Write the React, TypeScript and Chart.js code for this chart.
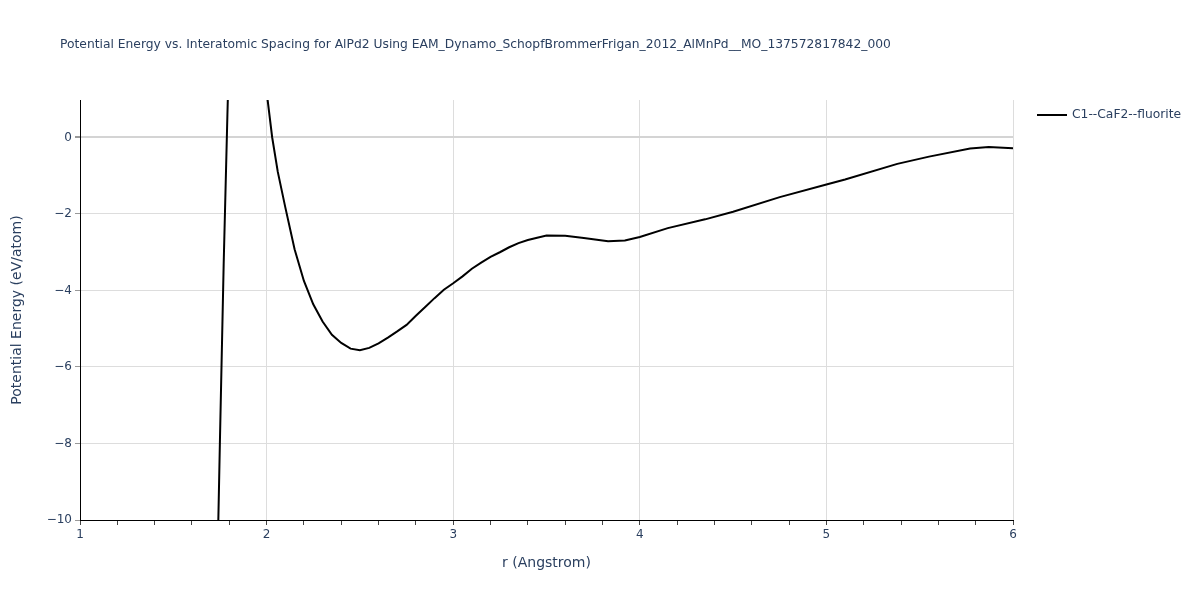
import React, { useEffect, useRef } from "react";
import { Chart, registerables } from "chart.js";

Chart.register(...registerables);

const TITLE =
  "Potential Energy vs. Interatomic Spacing for AlPd2 Using EAM_Dynamo_SchopfBrommerFrigan_2012_AlMnPd__MO_137572817842_000";
const SERIES_NAME = "C1--CaF2--fluorite";
const X_TITLE = "r (Angstrom)";
const Y_TITLE = "Potential Energy (eV/atom)";

const rValues = [
  1.70, 1.75, 1.77, 1.79, 1.82, 1.9, 1.98, 2.03, 2.06, 2.10, 2.15, 2.20, 2.25, 2.30, 2.35, 2.40,
  2.45, 2.50, 2.55, 2.60, 2.65, 2.70, 2.75, 2.80, 2.85, 2.90, 2.95, 3.00, 3.05, 3.10, 3.15,
  3.20, 3.25, 3.30, 3.35, 3.40, 3.45, 3.50, 3.60, 3.70, 3.80, 3.83, 3.92, 4.00, 4.15, 4.35,
  4.50, 4.75, 5.00, 5.10, 5.38, 5.55, 5.77, 5.87, 6.00,
];
const energyValues = [
  -20, -7.9, -3.3, 0.6, 6, 20, 2.0, 0.0, -0.9, -1.82, -2.92, -3.75, -4.36, -4.81, -5.16, -5.37,
  -5.52, -5.56, -5.5, -5.38, -5.23, -5.07, -4.9, -4.66, -4.43, -4.2, -3.98, -3.81, -3.63, -3.43, -3.27,
  -3.12, -3.0, -2.87, -2.76, -2.68, -2.62, -2.56, -2.57, -2.63, -2.69, -2.71, -2.69, -2.6, -2.37, -2.14,
  -1.94, -1.56, -1.23, -1.1, -0.69, -0.5, -0.29, -0.25, -0.28,
];

const X_MIN = 1;
const X_MAX = 6;
const Y_MIN = -10;
const Y_MAX = 0.98;

const TEXT = "#2a3f5f";
const FONT = "'DejaVu Sans', Verdana, sans-serif";

const isInt = (v: number) => Math.abs(v - Math.round(v)) < 1e-6;
const fmt = (v: number) => {
  const n = Math.round(v);
  return n < 0 ? "\u2212" + Math.abs(n) : String(n);
};

const overlayPlugin = {
  id: "overlay",
  afterDraw(chart: any) {
    const ctx = chart.ctx;
    ctx.save();
    ctx.fillStyle = TEXT;
    ctx.font = `12.3px ${FONT}`;
    ctx.textBaseline = "middle";
    ctx.textAlign = "left";
    ctx.fillText(TITLE, 60, 45);
    // legend
    ctx.strokeStyle = "#000";
    ctx.lineWidth = 2;
    ctx.beginPath();
    ctx.moveTo(1037, 115);
    ctx.lineTo(1067, 115);
    ctx.stroke();
    ctx.font = `12.3px ${FONT}`;
    ctx.fillText(SERIES_NAME, 1072, 115);
    ctx.restore();
  },
};

export default function App() {
  const ref = useRef<HTMLCanvasElement | null>(null);
  useEffect(() => {
    if (!ref.current) return;
    const data = rValues.map((r, i) => ({ x: r, y: energyValues[i] }));
    const chart = new Chart(ref.current, {
      type: "line",
      data: {
        datasets: [
          {
            label: SERIES_NAME,
            data,
            borderColor: "#000000",
            backgroundColor: "#000000",
            borderWidth: 2,
            pointRadius: 0,
            tension: 0,
          },
        ],
      },
      plugins: [overlayPlugin],
      options: {
        animation: false,
        responsive: false,
        maintainAspectRatio: false,
        layout: { padding: { top: 100, right: 187, left: 0, bottom: 0 } },
        plugins: {
          legend: { display: false },
          title: { display: false },
          tooltip: { enabled: false },
        },
        scales: {
          x: {
            type: "linear",
            min: X_MIN,
            max: X_MAX,
            afterFit: (s: any) => {
              s.height = 80;
            },
            ticks: {
              stepSize: 0.2,
              includeBounds: false,
              autoSkip: false,
              maxRotation: 0,
              padding: 3,
              color: TEXT,
              font: { family: FONT, size: 12 },
              callback: (v: any) => (isInt(Number(v)) ? fmt(Number(v)) : ""),
            },
            grid: {
              color: (c: any) => (c.tick && isInt(c.tick.value) ? "#dddddd" : "rgba(0,0,0,0)"),
              tickColor: "#444444",
              tickLength: 5,
              lineWidth: 1,
            },
            border: { display: true, color: "#000000", width: 1 },
            title: {
              display: true,
              text: X_TITLE,
              color: TEXT,
              font: { family: FONT, size: 14 },
              padding: { top: 0, bottom: 28 },
            },
          },
          y: {
            type: "linear",
            min: Y_MIN,
            max: Y_MAX,
            afterFit: (s: any) => {
              s.width = 80;
            },
            ticks: {
              stepSize: 2,
              includeBounds: false,
              padding: 3,
              color: TEXT,
              font: { family: FONT, size: 12 },
              callback: (v: any) => fmt(Number(v)),
            },
            grid: {
              color: (c: any) => (c.tick && Math.abs(c.tick.value) < 1e-6 ? "#d4d4d4" : "#dddddd"),
              lineWidth: (c: any) => (c.tick && Math.abs(c.tick.value) < 1e-6 ? 2 : 1),
              tickColor: "#999999",
              tickLength: 5,
            },
            border: { display: true, color: "#000000", width: 1 },
            title: {
              display: true,
              text: Y_TITLE,
              color: TEXT,
              font: { family: FONT, size: 14 },
              padding: { top: 9, bottom: 0 },
            },
          },
        },
      },
    });
    return () => chart.destroy();
  }, []);
  return (
    <div style={{ position: "absolute", left: 0, top: 0, width: 1200, height: 600, background: "#fff" }}>
      <canvas ref={ref} width={1200} height={600} style={{ width: 1200, height: 600 }} />
    </div>
  );
}
